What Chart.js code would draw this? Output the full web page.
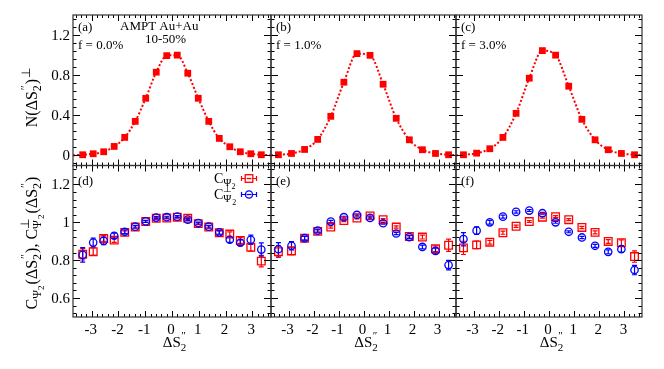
<!DOCTYPE html>
<html><head><meta charset="utf-8">
<script src="https://cdn.jsdelivr.net/npm/chart.js@4/dist/chart.umd.min.js"></script>
<style>
html,body{margin:0;padding:0;background:#fff;}
#wrap{position:relative;width:664px;height:369px;background:#fff;}
#wrap canvas{position:absolute;left:0;top:0;}
</style></head><body><div id="wrap">
<canvas id="pa" width="664" height="369"></canvas>
<canvas id="pb" width="664" height="369"></canvas>
<canvas id="pc" width="664" height="369"></canvas>
<canvas id="pd" width="664" height="369"></canvas>
<canvas id="pe" width="664" height="369"></canvas>
<canvas id="pf" width="664" height="369"></canvas>
</div>
<script>
// ---------- data ----------
const xBins8 = [-3.338,-2.945,-2.553,-2.160,-1.767,-1.374,-0.982,-0.589,-0.196,0.196,0.589,0.982,1.374,1.767,2.160,2.553,2.945,3.338];
const xBins6 = [-3.403,-2.880,-2.356,-1.833,-1.309,-0.785,-0.262,0.262,0.785,1.309,1.833,2.356,2.880,3.403];

const nA = [0.007,0.017,0.037,0.09,0.18,0.34,0.57,0.83,0.995,1.0,0.82,0.57,0.34,0.17,0.087,0.037,0.017,0.007];
const nB = [0.007,0.02,0.06,0.16,0.39,0.73,1.015,0.998,0.71,0.37,0.156,0.057,0.02,0.007];
const nC = [0.007,0.023,0.067,0.18,0.42,0.77,1.045,1.0,0.69,0.36,0.156,0.057,0.02,0.007];
const curveEdgeValue = 0.002;

const cRedD  = [0.831,0.845,0.915,0.906,0.947,0.975,1.004,1.021,1.023,1.027,1.021,0.993,0.975,0.945,0.938,0.904,0.868,0.795];
const cBlueD = [0.828,0.893,0.902,0.929,0.950,0.977,1.005,1.025,1.027,1.030,1.014,0.996,0.977,0.947,0.908,0.892,0.908,0.856];
const eRedD  = [0.03,0.02,0.015,0.012,0.008,0.006,0.005,0.005,0.005,0.005,0.005,0.005,0.006,0.008,0.012,0.015,0.02,0.03];
const eBlueD = [0.038,0.024,0.02,0.014,0.01,0.007,0.005,0.005,0.005,0.005,0.005,0.005,0.007,0.01,0.014,0.015,0.024,0.035];

const cRedE  = [0.845,0.849,0.916,0.952,0.975,1.009,1.023,1.034,1.014,0.975,0.925,0.922,0.860,0.879];
const cBlueE = [0.858,0.876,0.916,0.956,1.004,1.027,1.039,1.023,0.995,0.941,0.922,0.870,0.849,0.774];
const eRedE  = [0.03,0.02,0.01,0.008,0.006,0.005,0.005,0.005,0.005,0.006,0.008,0.01,0.015,0.032];
const eBlueE = [0.035,0.022,0.01,0.008,0.006,0.005,0.005,0.005,0.005,0.006,0.008,0.01,0.015,0.025];

const cRedF  = [0.865,0.881,0.895,0.945,0.979,1.004,1.027,1.030,1.014,0.973,0.947,0.899,0.892,0.819];
const cBlueF = [0.911,0.956,1.000,1.030,1.055,1.062,1.048,1.000,0.950,0.920,0.876,0.844,0.858,0.748];
const eRedF  = [0.035,0.02,0.01,0.008,0.006,0.005,0.005,0.005,0.005,0.006,0.008,0.01,0.015,0.03];
const eBlueF = [0.035,0.02,0.01,0.008,0.006,0.005,0.005,0.005,0.005,0.006,0.008,0.01,0.015,0.025];

const xTickVals = [-3,-2,-1,0,1,2,3];
const xTickLabels = ['-3','-2','-1','0','1','2','3'];
const yTopTickVals = [0,0.4,0.8,1.2];
const yTopTickLabels = ['0','0.4','0.8','1.2'];
const yBotTickVals = [0.6,0.8,1.0,1.2];
const yBotTickLabels = ['0.6','0.8','1','1.2'];
const panelLetters = ['(a)','(b)','(c)','(d)','(e)','(f)'];
const fractions = ['f = 0.0%','f = 1.0%','f = 3.0%'];

// ---------- helpers ----------
const RED='#ff0000', BLUE='#0000ff';
function fnt(s,i){return (i?'italic ':'')+s+'px "Liberation Serif","Times New Roman",serif';}
function layoutRich(ctx, parts){
  let x=0, items=[], prev=null;
  for(const p of parts){
    ctx.font=fnt(p.s,p.i);
    const w=ctx.measureText(p.t).width;
    let sx;
    if(p.stack && prev){ sx=prev.x0; x=Math.max(prev.x0+prev.w, sx+w); }
    else { sx=x; x=sx+w; }
    x+=(p.gap||0);
    const it={t:p.t,s:p.s,i:p.i,dy:p.dy||0,x0:sx,x:sx+(p.dx||0),w:w};
    items.push(it); prev=it;
  }
  return {items,width:x};
}
function drawRich(ctx, parts, x, y, align){
  const L=layoutRich(ctx,parts);
  const x0 = align==='center'? x-L.width/2 : align==='right'? x-L.width : x;
  ctx.textBaseline='alphabetic'; ctx.textAlign='left';
  for(const it of L.items){ ctx.font=fnt(it.s,it.i); ctx.fillText(it.t, x0+it.x, y+it.dy); }
}
function pts(xs, ys){ return xs.map((x,i)=>({x:x,y:ys[i]})); }

const S2 = (s,ss)=>[{t:'ΔS',s:s},{t:'″',s:ss,dy:-Math.round(s*0.52),dx:0.5},{t:'2',s:ss,dy:Math.round(s*0.27),stack:true,gap:1}];

const yTitleTop = [{t:'N(ΔS',s:16},{t:'″',s:12,dy:-8,dx:1},{t:'2',s:12,dy:4,stack:true,gap:1},{t:')',s:16},{t:'⊥',s:12,dy:-7,dx:1}];
const yTitleBot = [{t:'C',s:16},{t:'Ψ',s:12,dy:4},{t:'2',s:9,dy:7,gap:1},{t:'(ΔS',s:16},{t:'″',s:12,dy:-8,dx:1},{t:'2',s:12,dy:4,stack:true,gap:1},
  {t:'), C',s:16},{t:'⊥',s:12,dy:-8},{t:'Ψ',s:12,dy:4,stack:true},{t:'2',s:9,dy:7,gap:1},{t:'(ΔS',s:16},{t:'″',s:12,dy:-8,dx:1},{t:'2',s:12,dy:4,stack:true,gap:1},{t:')',s:16}];

// ---------- geometry ----------
const colL=[73,271,456], colR=[271,456,642];
const rowT=[15,165.5], rowB=[165.5,317];
const X_MIN=-3.7, X_MAX=3.7;

function panelPlugin(cfg){
  return {
    id:'root'+cfg.idx,
    beforeDatasetsDraw(chart){
      const ctx=chart.ctx, ys=chart.scales.y;
      chart.data.datasets.forEach((ds,di)=>{
        if(!ds.errors) return;
        const meta=chart.getDatasetMeta(di);
        ctx.save(); ctx.strokeStyle=ds.borderColor; ctx.lineWidth=1.2;
        meta.data.forEach((el,i)=>{
          const v=ds.data[i].y, e=ds.errors[i];
          const y1=ys.getPixelForValue(v-e), y2=ys.getPixelForValue(v+e);
          ctx.beginPath(); ctx.moveTo(el.x,y1); ctx.lineTo(el.x,y2);
          ctx.moveTo(el.x-2.5,y1); ctx.lineTo(el.x+2.5,y1);
          ctx.moveTo(el.x-2.5,y2); ctx.lineTo(el.x+2.5,y2);
          ctx.stroke();
        });
        ctx.restore();
      });
    },
    afterDraw(chart){
      const ctx=chart.ctx, a=chart.chartArea, xs=chart.scales.x, ys=chart.scales.y;
      ctx.save();
      // ticks
      ctx.strokeStyle='#000'; ctx.lineWidth=1;
      ctx.beginPath();
      for(let k=-18;k<=18;k++){
        const v=k*0.2; if(v<=X_MIN||v>=X_MAX) continue;
        const major=Math.abs(v-Math.round(v))<1e-6;
        const L=major?6:3, px=Math.round(xs.getPixelForValue(v))+0.5;
        ctx.moveTo(px,a.bottom); ctx.lineTo(px,a.bottom-L);
        ctx.moveTo(px,a.top); ctx.lineTo(px,a.top+L);
      }
      const ny=Math.round((cfg.yMax-cfg.yMin)/cfg.yMinor)+40;
      for(let k=-40;k<=ny;k++){
        const v=cfg.yMinorStart+k*cfg.yMinor; if(v<=cfg.yMin||v>=cfg.yMax) continue;
        const r=(v-cfg.yMajorStart)/cfg.yMajor; const major=Math.abs(r-Math.round(r))<1e-6;
        const L=major?7:3.5, py=Math.round(ys.getPixelForValue(v))+0.5;
        ctx.moveTo(a.left,py); ctx.lineTo(a.left+L,py);
        ctx.moveTo(a.right,py); ctx.lineTo(a.right-L,py);
      }
      ctx.stroke();
      // frame
      ctx.strokeStyle='#333'; ctx.lineWidth=1.2;
      ctx.strokeRect(a.left,a.top,a.right-a.left,a.bottom-a.top);
      ctx.fillStyle='#000';
      // y tick labels
      if(cfg.yLabels){
        ctx.font=fnt(15); ctx.textAlign='right'; ctx.textBaseline='alphabetic';
        cfg.yTickVals.forEach((v,i)=>{ ctx.fillText(cfg.yTickLabels[i], a.left-3, ys.getPixelForValue(v)+5); });
        ctx.save();
        ctx.translate(31.5, cfg.yTitleY); ctx.rotate(-Math.PI/2);
        drawRich(ctx, cfg.yTitle, 0, 5.5, 'center');
        ctx.restore();
      }
      // x tick labels + title
      if(cfg.xLabels){
        ctx.font=fnt(15); ctx.textAlign='center'; ctx.textBaseline='alphabetic';
        xTickVals.forEach((v,i)=>{ ctx.fillText(xTickLabels[i], xs.getPixelForValue(v)-1, 334); });
        drawRich(ctx, S2(15,11), xs.getPixelForValue(0)+3, 347, 'center');
      }
      // panel texts
      ctx.font=fnt(13); ctx.textAlign='left'; ctx.textBaseline='alphabetic';
      ctx.fillText(cfg.letter, a.left+5, cfg.row===0?30.5:184.5);
      if(cfg.frac) ctx.fillText(cfg.frac, a.left+5, 48.5);
      if(cfg.header){
        ctx.fillText('AMPT Au+Au', 120, 29.5);
        ctx.fillText('10-50%', 145, 42.5);
      }
      if(cfg.legend){
        ctx.fillStyle='#000';
        drawRich(ctx,[{t:'C',s:14},{t:'Ψ',s:11,dy:3},{t:'2',s:8,dy:6}],214,182.5,'left');
        drawRich(ctx,[{t:'C',s:14},{t:'⊥',s:10,dy:-7},{t:'Ψ',s:11,dy:3,stack:true},{t:'2',s:8,dy:6}],214,199,'left');
        const lx=249;
        [[178.5,RED,'sq'],[194.5,BLUE,'ci']].forEach(([ly,col,m])=>{
          ctx.strokeStyle=col; ctx.lineWidth=1.2;
          ctx.beginPath();
          ctx.moveTo(lx-7.5,ly); ctx.lineTo(lx+7.5,ly);
          ctx.moveTo(lx-7.5,ly-2.5); ctx.lineTo(lx-7.5,ly+2.5);
          ctx.moveTo(lx+7.5,ly-2.5); ctx.lineTo(lx+7.5,ly+2.5);
          ctx.stroke();
          ctx.fillStyle='#fff'; ctx.lineWidth=1.3;
          if(m==='sq'){ ctx.fillRect(lx-3.8,ly-3.8,7.6,7.6); ctx.strokeRect(lx-3.8,ly-3.8,7.6,7.6); }
          else { ctx.beginPath(); ctx.arc(lx,ly,3.6,0,2*Math.PI); ctx.fill(); ctx.stroke(); }
          ctx.beginPath(); ctx.moveTo(lx-2.5,ly); ctx.lineTo(lx+2.5,ly); ctx.stroke();
        });
      }
      ctx.restore();
    }
  };
}

function makePanel(id, cfg, datasets){
  const c=cfg.col, r=cfg.row;
  return new Chart(document.getElementById(id), {
    type:'scatter',
    data:{datasets:datasets},
    options:{
      responsive:false, animation:false, devicePixelRatio:1, events:[],
      layout:{padding:{left:colL[c], top:rowT[r], right:664-colR[c], bottom:369-rowB[r]}},
      plugins:{legend:{display:false}, tooltip:{enabled:false}},
      scales:{
        x:{type:'linear', min:X_MIN, max:X_MAX, display:false},
        y:{type:'linear', min:cfg.yMin, max:cfg.yMax, display:false}
      }
    },
    plugins:[panelPlugin(cfg)]
  });
}

function topSets(xs, ys){
  return [
    {label:'N', data:pts(xs,ys), showLine:false, pointStyle:'rect', pointRadius:4.8, pointBackgroundColor:RED, pointBorderColor:RED, pointBorderWidth:0, order:0, clip:false},
    {label:'fit', data:pts([X_MIN].concat(xs,[X_MAX]), [curveEdgeValue].concat(ys,[curveEdgeValue])), showLine:true, borderColor:RED, borderWidth:2, borderDash:[2,2], pointRadius:0, cubicInterpolationMode:'monotone', order:1}
  ];
}
function botSets(xs, red, eRed, blue, eBlue){
  return [
    {label:'C', data:pts(xs,red), errors:eRed, showLine:false, pointStyle:'rect', pointRadius:5.4, pointBackgroundColor:'rgba(0,0,0,0)', pointBorderColor:RED, borderColor:RED, pointBorderWidth:1.3, order:2, clip:false},
    {label:'Cperp', data:pts(xs,blue), errors:eBlue, showLine:false, pointStyle:'circle', pointRadius:3.7, pointBackgroundColor:'rgba(0,0,0,0)', pointBorderColor:BLUE, borderColor:BLUE, pointBorderWidth:1.3, order:1, clip:false}
  ];
}

const topCfg = (idx,col)=>({idx:idx,col:col,row:0,yMin:-0.1,yMax:1.4,yMinor:0.08,yMinorStart:0,yMajor:0.4,yMajorStart:0,
  yLabels:col===0,yTickVals:yTopTickVals,yTickLabels:yTopTickLabels,yTitle:yTitleTop,yTitleY:98,
  xLabels:false,letter:panelLetters[idx],frac:fractions[col],header:col===0,legend:false});
const botCfg = (idx,col)=>({idx:idx,col:col,row:1,yMin:0.5,yMax:1.3,yMinor:0.04,yMinorStart:0.6,yMajor:0.2,yMajorStart:0.6,
  yLabels:col===0,yTickVals:yBotTickVals,yTickLabels:yBotTickLabels,yTitle:yTitleBot,yTitleY:243,
  xLabels:true,letter:panelLetters[idx],frac:null,header:false,legend:col===0});

makePanel('pa', topCfg(0,0), topSets(xBins8,nA));
makePanel('pb', topCfg(1,1), topSets(xBins6,nB));
makePanel('pc', topCfg(2,2), topSets(xBins6,nC));
makePanel('pd', botCfg(3,0), botSets(xBins8,cRedD,eRedD,cBlueD,eBlueD));
makePanel('pe', botCfg(4,1), botSets(xBins6,cRedE,eRedE,cBlueE,eBlueE));
makePanel('pf', botCfg(5,2), botSets(xBins6,cRedF,eRedF,cBlueF,eBlueF));
</script>
</body></html>
